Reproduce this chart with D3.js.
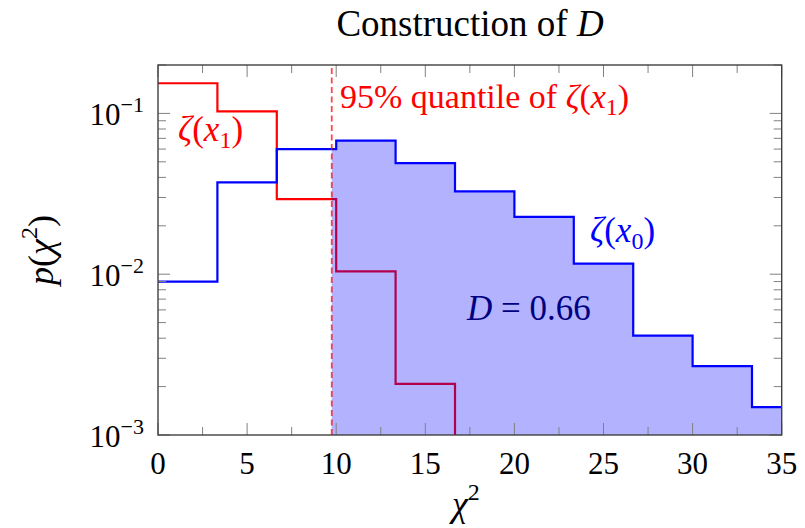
<!DOCTYPE html>
<html>
<head>
<meta charset="utf-8">
<script src="https://cdn.jsdelivr.net/npm/d3@7"></script>
<style>
  html, body { margin: 0; padding: 0; background: #fff; }
  svg { display: block; }
  svg text { font-family: "Liberation Serif", serif; }
</style>
</head>
<body>
<svg id="chart" width="805" height="528"></svg>
<script>
// Histogram bin edges (chi-square), shared by both distributions
const binEdges = [0, 3.333, 6.667, 10, 13.333, 16.667, 20, 23.333, 26.667, 30, 33.333, 36.667];
// zeta(x1): probability per bin (empty beyond 16.67)
const redValues = [0.154, 0.103, 0.0293, 0.0104, 0.00208];
// zeta(x0): probability per bin
const blueValues = [0.0090, 0.0372, 0.060, 0.0677, 0.0491, 0.0327, 0.0227, 0.01164, 0.00415, 0.00268, 0.00149];
// 95% quantile of zeta(x1)
const quantile = 9.75;
const dValue = "0.66";
const xTicks = [0, 5, 10, 15, 20, 25, 30, 35];
const xMinorTicks = [2.5, 7.5, 12.5, 17.5, 22.5, 27.5, 32.5];
const yTicks = [1e-3, 1e-2, 1e-1];
const yTickExponents = ["−3", "−2", "−1"];

const svg = d3.select("#chart");
const L = 158, R = 781.7, T = 65, B = 435;
const x = d3.scaleLinear().domain([0, 35]).range([L, R]);
const y = d3.scaleLog().domain([1e-3, 0.2]).range([B, T]);
const yFloor = 1e-3;

svg.append("defs").append("clipPath").attr("id", "plotClip")
  .append("rect").attr("x", L).attr("y", T).attr("width", R - L).attr("height", B - T);

const plot = svg.append("g").attr("clip-path", "url(#plotClip)");

const stepLine = d3.line().curve(d3.curveStepAfter).x(d => x(d[0])).y(d => y(d[1]));

// zeta(x1) step outline
const redPts = redValues.map((v, i) => [binEdges[i], v]);
redPts.push([binEdges[redValues.length], yFloor]);
plot.append("path").attr("d", stepLine(redPts))
  .attr("fill", "none").attr("stroke", "#ff0000").attr("stroke-width", 2.2);

// Shaded region of zeta(x0) above the quantile
const fillPts = [[quantile, blueValues[2]]];
for (let i = 3; i < blueValues.length; i++) fillPts.push([binEdges[i], blueValues[i]]);
fillPts.push([binEdges[blueValues.length], blueValues[blueValues.length - 1]]);
const stepArea = d3.area().curve(d3.curveStepAfter)
  .x(d => x(d[0])).y0(y(yFloor)).y1(d => y(d[1]));
plot.append("path").attr("d", stepArea(fillPts))
  .attr("fill", "#0000ff").attr("fill-opacity", 0.3);

// zeta(x0) step outline
const bluePts = blueValues.map((v, i) => [binEdges[i], v]);
bluePts.push([binEdges[blueValues.length], blueValues[blueValues.length - 1]]);
plot.append("path").attr("d", stepLine(bluePts))
  .attr("fill", "none").attr("stroke", "#0000ff").attr("stroke-width", 2.2);

// Quantile marker
plot.append("line")
  .attr("x1", x(quantile)).attr("x2", x(quantile))
  .attr("y1", y(yFloor)).attr("y2", y(0.2))
  .attr("stroke", "#ff0000").attr("stroke-opacity", 0.72)
  .attr("stroke-width", 1.8).attr("stroke-dasharray", "6,3.5");

// Ticks (inward, on all four sides)
const ticks = svg.append("g").attr("stroke", "#808080").attr("stroke-width", 1);
const majorLen = 12, minorLen = 8;
xTicks.forEach(t => {
  ticks.append("line").attr("x1", x(t)).attr("x2", x(t)).attr("y1", B).attr("y2", B - majorLen);
  ticks.append("line").attr("x1", x(t)).attr("x2", x(t)).attr("y1", T).attr("y2", T + majorLen);
});
xMinorTicks.forEach(t => {
  ticks.append("line").attr("x1", x(t)).attr("x2", x(t)).attr("y1", B).attr("y2", B - minorLen);
  ticks.append("line").attr("x1", x(t)).attr("x2", x(t)).attr("y1", T).attr("y2", T + minorLen);
});
const yMinor = [];
[1e-3, 1e-2, 1e-1].forEach(d => { for (let k = 2; k <= 9; k++) { const v = k * d; if (v < 0.2 + 1e-9) yMinor.push(v); } });
yTicks.forEach(t => {
  ticks.append("line").attr("x1", L).attr("x2", L + majorLen).attr("y1", y(t)).attr("y2", y(t));
  ticks.append("line").attr("x1", R).attr("x2", R - majorLen).attr("y1", y(t)).attr("y2", y(t));
});
yMinor.forEach(t => {
  ticks.append("line").attr("x1", L).attr("x2", L + minorLen).attr("y1", y(t)).attr("y2", y(t));
  ticks.append("line").attr("x1", R).attr("x2", R - minorLen).attr("y1", y(t)).attr("y2", y(t));
});

// Frame
svg.append("rect").attr("x", L).attr("y", T).attr("width", R - L).attr("height", B - T)
  .attr("fill", "none").attr("stroke", "#404040").attr("stroke-width", 1.4);

// Tick labels
const xAxisLabels = svg.append("g").attr("font-size", 31).attr("text-anchor", "middle").attr("fill", "#000");
xTicks.forEach(t => {
  xAxisLabels.append("text").attr("x", x(t)).attr("y", 474).text(t);
});
const yAxisLabels = svg.append("g").attr("font-size", 31).attr("text-anchor", "end").attr("fill", "#000");
yTicks.forEach((t, i) => {
  const tx = yAxisLabels.append("text").attr("x", 144).attr("y", y(t) + 12);
  tx.append("tspan").text("10");
  tx.append("tspan").attr("font-size", 22).attr("dy", -13).text(yTickExponents[i]);
});

// Axis titles
const xl = svg.append("text").attr("x", x(17.5) - 4).attr("y", 516).attr("text-anchor", "middle")
  .attr("font-size", 36);
xl.append("tspan").attr("font-style", "italic").text("χ");
xl.append("tspan").attr("font-size", 24).attr("dy", -16).text("2");

const yl = svg.append("text").attr("transform", `translate(53,${(T + B) / 2}) rotate(-90)`)
  .attr("text-anchor", "middle").attr("font-size", 36);
yl.append("tspan").attr("font-style", "italic").text("p");
yl.append("tspan").text("(");
yl.append("tspan").attr("font-style", "italic").text("χ");
yl.append("tspan").attr("font-size", 24).attr("dy", -16).text("2");
yl.append("tspan").attr("dy", 16).text(")");

// Title
const title = svg.append("text").attr("x", 470).attr("y", 36).attr("text-anchor", "middle")
  .attr("font-size", 37).attr("fill", "#000");
title.append("tspan").text("Construction of ");
title.append("tspan").attr("font-style", "italic").text("D");

// Annotations
function zetaLabel(g, sub) {
  g.append("tspan").attr("font-style", "italic").text("ζ");
  g.append("tspan").text("(");
  g.append("tspan").attr("font-style", "italic").text("x");
  g.append("tspan").attr("font-size", 24).attr("dy", 7).text(sub);
  g.append("tspan").attr("dy", -7).text(")");
}

const qLabel = svg.append("text").attr("x", 340).attr("y", 108).attr("font-size", 34).attr("fill", "#ff0000");
qLabel.append("tspan").text("95% quantile of ");
zetaLabel(qLabel, "1");

const r1 = svg.append("text").attr("x", 178).attr("y", 141).attr("font-size", 35).attr("fill", "#ff0000");
zetaLabel(r1, "1");

const b0 = svg.append("text").attr("x", 590).attr("y", 242).attr("font-size", 35).attr("fill", "#0000ff");
zetaLabel(b0, "0");

const dl = svg.append("text").attr("x", 467).attr("y", 320).attr("font-size", 35).attr("fill", "#000080");
dl.append("tspan").attr("font-style", "italic").text("D");
dl.append("tspan").text(" = " + dValue);
</script>
</body>
</html>
